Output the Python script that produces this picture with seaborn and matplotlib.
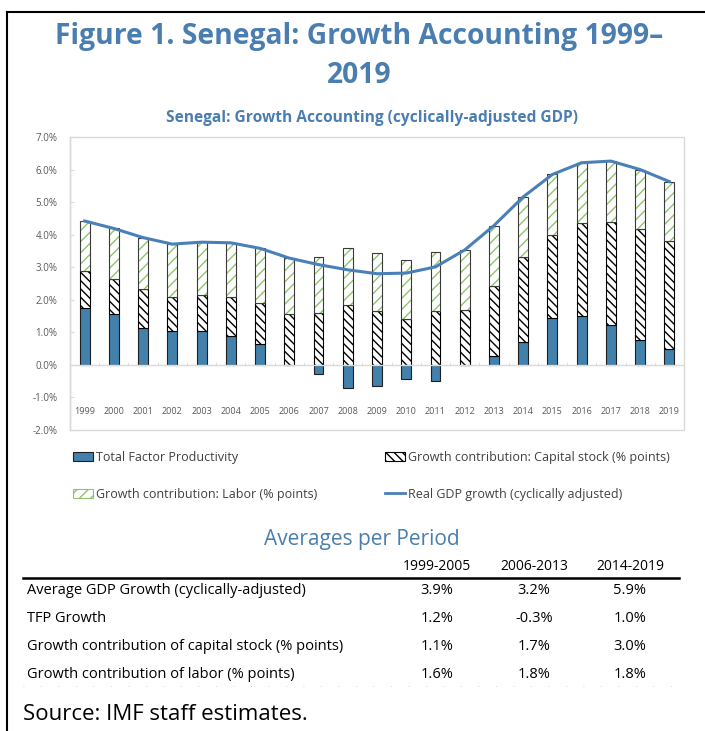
import numpy as np
import matplotlib
matplotlib.use('Agg')
import matplotlib.pyplot as plt
import seaborn as sns
from matplotlib.patches import Patch, Rectangle
from matplotlib.lines import Line2D

# data (% / percentage points)
years = [str(y) for y in range(1999, 2020)]
tfp = [1.75, 1.57, 1.12, 1.05, 1.05, 0.89, 0.65, 0.0, -0.29, -0.70, -0.65,
       -0.44, -0.50, 0.0, 0.27, 0.71, 1.45, 1.51, 1.23, 0.77, 0.49]
capital = [1.12, 1.08, 1.21, 1.05, 1.10, 1.21, 1.24, 1.57, 1.59, 1.83, 1.64,
           1.42, 1.65, 1.70, 2.15, 2.59, 2.55, 2.84, 3.17, 3.39, 3.33]
labor = [1.55, 1.54, 1.58, 1.61, 1.62, 1.65, 1.69, 1.71, 1.73, 1.76, 1.80,
         1.81, 1.83, 1.84, 1.86, 1.86, 1.85, 1.86, 1.86, 1.84, 1.81]
gdp = [4.42, 4.19, 3.91, 3.71, 3.77, 3.75, 3.58, 3.28, 3.08, 2.92, 2.80,
       2.82, 3.01, 3.53, 4.28, 5.16, 5.85, 6.21, 6.26, 6.00, 5.63]

# table of period averages
periods = ['1999-2005', '2006-2013', '2014-2019']
row_labels = ['Average GDP Growth (cyclically-adjusted)',
              'TFP Growth',
              'Growth contribution of capital stock (% points)',
              'Growth contribution of labor (% points)']
row_values = [['3.9%', '3.2%', '5.9%'],
              ['1.2%', '-0.3%', '1.0%'],
              ['1.1%', '1.7%', '3.0%'],
              ['1.6%', '1.8%', '1.8%']]

BLUE = '#4a7eb0'
BAR_BLUE = '#4181ab'
LINE = '#4a80b8'
GREEN = '#8fc46e'
GREY = '#d9d9d9'

plt.rcParams['font.family'] = ['Open Sans', 'DejaVu Sans']
plt.rcParams['hatch.linewidth'] = 1.0

W, H = 705, 731
fig = plt.figure(figsize=(W / 100, H / 100), dpi=100)
ax = fig.add_axes([70 / W, 1 - 430 / H, 614 / W, 293 / H])

cap_base = np.clip(np.array(tfp), 0, None)
lab_base = cap_base + np.array(capital)
bw = 0.34

sns.barplot(x=years, y=tfp, color=BAR_BLUE, saturation=1, width=bw,
            edgecolor='#1f1f1f', linewidth=0.8, errorbar=None, ax=ax)
sns.barplot(x=years, y=capital, bottom=cap_base, color='white', saturation=1,
            width=bw, edgecolor='black', hatch='\\\\\\\\', linewidth=0.8,
            errorbar=None, ax=ax)
sns.barplot(x=years, y=labor, bottom=lab_base, color='white', saturation=1,
            width=bw, edgecolor=GREEN, hatch='///', linewidth=0,
            errorbar=None, ax=ax)
# dark outline on top of the green hatched segments
for p in ax.containers[-1]:
    ax.add_patch(Rectangle(p.get_xy(), p.get_width(), p.get_height(),
                           fill=False, edgecolor='#3a3a3a', lw=0.8,
                           zorder=p.get_zorder()))

sns.lineplot(x=years, y=gdp, color=LINE, lw=2.2, ax=ax, zorder=5, sort=False)

ax.set_xlim(-0.5, len(years) - 0.5)
ax.set_ylim(-2, 7)
yt = np.arange(-2, 8, 1)
ax.set_yticks(yt)
ax.set_yticklabels([f'{v:.1f}%' for v in yt])
ax.set_xticks(range(len(years)))
ax.set_xticklabels(years)
ax.set_xticks(np.arange(0.5, len(years) - 1, 1), minor=True)
ax.set_xlabel('')
ax.set_ylabel('')
ax.tick_params(axis='x', which='major', length=0, pad=30, labelsize=6.5,
               labelcolor='#595959')
ax.tick_params(axis='x', which='minor', direction='in', length=2.5, color=GREY)
ax.tick_params(axis='y', direction='in', length=3, color=GREY, labelsize=7,
               labelcolor='#595959', pad=9)
ax.spines['bottom'].set_position(('data', 0))
for s in ax.spines.values():
    s.set_color(GREY)
    s.set_linewidth(1)
ax.spines['top'].set_visible(False)
ax.spines['right'].set_visible(False)
ax.add_patch(Rectangle((0, 0), 1, 1, transform=ax.transAxes, fill=False,
                       edgecolor=GREY, lw=1, clip_on=False))

# legend, two columns
h_tfp = Patch(facecolor=BAR_BLUE, edgecolor='#1f1f1f', lw=0.8)
h_cap = Patch(facecolor='white', edgecolor='black', hatch='\\\\\\\\', lw=0.8)
h_lab = Patch(facecolor='white', edgecolor=GREEN, hatch='///', lw=0.8)
h_gdp = Line2D([], [], color=LINE, lw=2)
leg_kw = dict(loc='upper left', frameon=False, fontsize=9, labelcolor='#404040',
              labelspacing=1.9, handlelength=1.6, handleheight=0.7,
              handletextpad=0.2, borderpad=0, borderaxespad=0)
fig.legend([h_tfp, h_lab], ['Total Factor Productivity',
                            'Growth contribution: Labor (% points)'],
           bbox_to_anchor=(73 / W, 1 - 451 / H), **leg_kw)
fig.legend([h_cap, h_gdp], ['Growth contribution: Capital stock (% points)',
                            'Real GDP growth (cyclically adjusted)'],
           bbox_to_anchor=(385 / W, 1 - 451 / H), **leg_kw)

# titles
fig.text(359 / W, 1 - 56 / H, 'Figure 1. Senegal: Growth Accounting 1999–\n2019',
         ha='center', va='center', multialignment='center', fontsize=20.3,
         fontweight='bold', color=BLUE, linespacing=1.45)
fig.text(372 / W, 1 - 118 / H,
         'Senegal: Growth Accounting (cyclically-adjusted GDP)',
         ha='center', va='center', fontsize=11.2, fontweight='bold', color=BLUE)

# averages table
fig.text(362 / W, 1 - 540 / H, 'Averages per Period', ha='center', va='center',
         fontsize=15, color=BLUE)
col_x = [437, 534, 630]
for cx, lab in zip(col_x, periods):
    fig.text(cx / W, 1 - 567 / H, lab, ha='center', va='center', fontsize=10)
fig.add_artist(Line2D([23 / W, 679 / W], [1 - 578 / H] * 2, color='black',
                      lw=1.8, transform=fig.transFigure))
row_y = [590, 618, 646, 675]
for ry, lab, vals in zip(row_y, row_labels, row_values):
    fig.text(27 / W, 1 - ry / H, lab, ha='left', va='center', fontsize=10.5)
    for cx, v in zip(col_x, vals):
        fig.text(cx / W, 1 - ry / H, v, ha='center', va='center', fontsize=10.5)
fig.add_artist(Line2D([23 / W, 679 / W], [1 - 686 / H] * 2, color='#c8c8c8',
                      lw=0.6, ls=(0, (1, 20)), transform=fig.transFigure))

fig.text(23 / W, 1 - 715 / H, 'Source: IMF staff estimates.', ha='left',
         va='center', fontsize=16)

# outer frame (top and left edges)
fig.add_artist(Line2D([7 / W, 1], [1 - 12 / H] * 2, color='black', lw=1.5,
                      transform=fig.transFigure))
fig.add_artist(Line2D([7 / W, 7 / W], [1 - 12 / H, 0], color='black', lw=1.5,
                      transform=fig.transFigure))

fig.savefig('out.png', dpi=100)
